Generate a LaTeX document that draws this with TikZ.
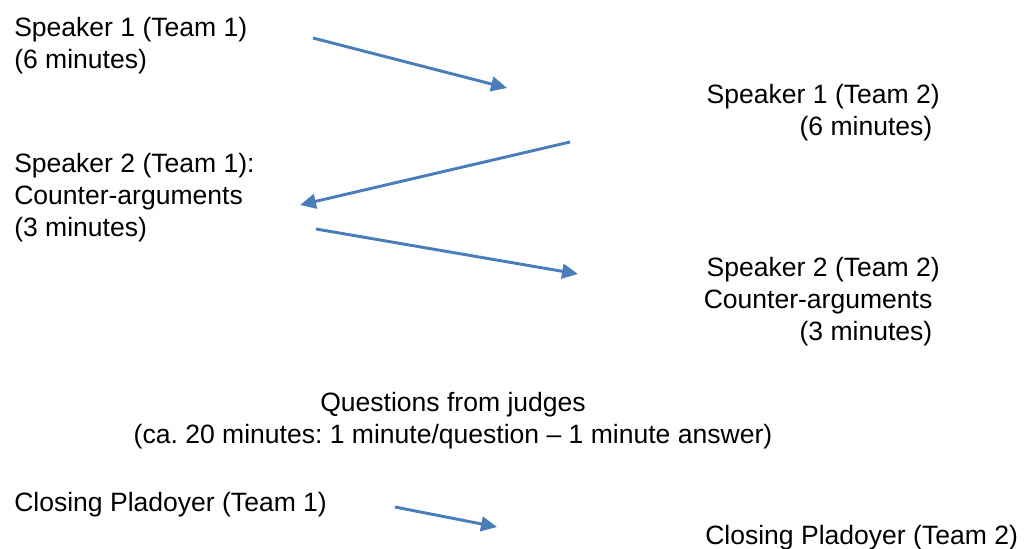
\documentclass[tikz,border=0pt]{standalone}
\usepackage{fontspec}
\setmainfont{Liberation Sans}
\usepackage{tikz}
\usetikzlibrary{arrows.meta}
\definecolor{flowblue}{HTML}{4A7EBB}
\frenchspacing

\begin{document}
\begin{tikzpicture}[x=0.75pt,y=-0.75pt,
    txt/.style={inner sep=0pt,font=\fontsize{19.9pt}{24pt}\selectfont},
    lefttxt/.style={txt,anchor=base west,align=left},
    righttxt/.style={txt,anchor=base east,align=right},
    flow/.style={draw=flowblue,line width=2.2pt,-{Triangle[length=12pt,width=11pt]}}]
    \useasboundingbox (0,0) rectangle (1027,549);
    \node[lefttxt] (s1a) at (14,69) {Speaker 1 (Team 1)\\(6 minutes)};
    \node[righttxt] (s1b) at (940,136) {Speaker 1 (Team 2)\\(6 minutes)\kern0.278em};
    \node[lefttxt] (s2a) at (14,236) {Speaker 2 (Team 1):\\Counter-arguments\\(3 minutes)};
    \node[righttxt] (s2b) at (940,340) {Speaker 2 (Team 2)\\Counter-arguments\kern0.278em\\(3 minutes)\kern0.278em};
    \node[txt,anchor=base,align=center] (judges) at (453,443) {Questions from judges\\(ca. 20 minutes: 1 minute/question -- 1 minute answer)};
    \node[lefttxt] (closea) at (14,511) {Closing Pladoyer (Team 1)};
    \node[lefttxt] (closeb) at (705,544) {Closing Pladoyer (Team 2)};
    \coordinate (f1) at (313,38);
    \coordinate (t1) at (507,88);
    \coordinate (f2) at (570,142);
    \coordinate (t2) at (300,205);
    \coordinate (f3) at (316,229);
    \coordinate (t3) at (578,274);
    \coordinate (f4) at (395,507);
    \coordinate (t4) at (497,527);
    \draw[flow] (f1) -- (t1);
    \draw[flow] (f2) -- (t2);
    \draw[flow] (f3) -- (t3);
    \draw[flow] (f4) -- (t4);
\end{tikzpicture}
\end{document}
